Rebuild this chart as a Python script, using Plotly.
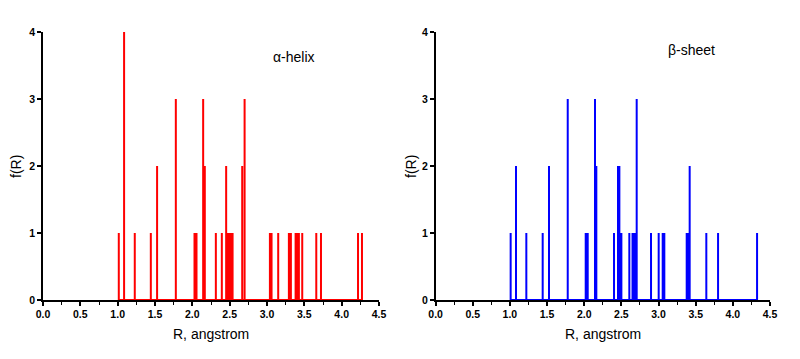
import plotly.graph_objects as go

# Data
alpha_R = [1.015, 1.086, 1.229, 1.444, 1.528, 1.779, 2.029, 2.056, 2.145, 2.167,
           2.315, 2.395, 2.453, 2.476, 2.494, 2.516, 2.539, 2.668, 2.700, 3.039,
           3.061, 3.150, 3.293, 3.320, 3.383, 3.405, 3.427, 3.472, 3.660, 3.723,
           4.219, 4.272]
alpha_f = [1, 4, 1, 1, 2, 3, 1, 1, 3, 2,
           1, 1, 2, 1, 1, 1, 1, 2, 3, 1,
           1, 1, 1, 1, 1, 1, 1, 1, 1, 1,
           1, 1]

beta_R = [1.010, 1.082, 1.221, 1.441, 1.526, 1.778, 2.020, 2.047, 2.145, 2.163,
          2.401, 2.455, 2.473, 2.500, 2.607, 2.650, 2.670, 2.690, 2.706, 2.899,
          3.002, 3.056, 3.078, 3.379, 3.401, 3.419, 3.643, 3.801, 4.326]
beta_f = [1, 2, 1, 1, 2, 3, 1, 1, 3, 2,
          1, 2, 2, 1, 1, 1, 1, 1, 3, 1,
          1, 1, 1, 1, 1, 2, 1, 1, 1]

x_ticks = [0.0, 0.5, 1.0, 1.5, 2.0, 2.5, 3.0, 3.5, 4.0, 4.5]
y_ticks = [0, 1, 2, 3, 4]

FONT = "Arial, Liberation Sans, sans-serif"


def impulses(rs, fs):
    xs, ys = [], []
    for r, f in zip(rs, fs):
        xs += [r, r, r]
        ys += [0, f, 0]
    return xs, ys


fig = go.Figure()
ax, ay = impulses(alpha_R, alpha_f)
bx, by = impulses(beta_R, beta_f)
fig.add_trace(go.Scatter(x=ax, y=ay, mode="lines", line=dict(color="#FF0000", width=2),
                         xaxis="x", yaxis="y", showlegend=False, hoverinfo="skip",
                         cliponaxis=False))
fig.add_trace(go.Scatter(x=bx, y=by, mode="lines", line=dict(color="#0000FF", width=2),
                         xaxis="x2", yaxis="y2", showlegend=False, hoverinfo="skip",
                         cliponaxis=False))

H = 359.0
W = 800.0
# page body margin offset (figure is placed 8px from the page corner)
OX = 8
OY = 8


def px(x):
    return (x - OX) / W


def py(y):
    return 1 - (y - OY) / H


ydom = [py(300), py(32)]

xcommon = dict(range=[0, 4.5], tickvals=x_ticks, ticktext=[f"{v:.1f}" for v in x_ticks],
               showline=True, linecolor="black", linewidth=1.5, ticks="outside",
               ticklen=4, tickwidth=1.5, tickcolor="black", showgrid=False, zeroline=False,
               tickfont=dict(family=FONT, size=10.5, color="black", weight="bold"),
               minor=dict(dtick=0.25, tick0=0, ticks="outside", ticklen=3, tickwidth=1.2,
                          tickcolor="black", showgrid=False),
               automargin=False, layer="below traces", fixedrange=True)
ycommon = dict(range=[0, 4], tickvals=y_ticks, showline=True, linecolor="black", linewidth=1.5,
               ticks="outside", ticklen=4, tickwidth=1.5, tickcolor="black", showgrid=False,
               zeroline=False, domain=ydom,
               tickfont=dict(family=FONT, size=10.5, color="black", weight="bold"),
               automargin=False, layer="below traces", fixedrange=True)

title_font = dict(family=FONT, size=14, color="black")


def ann(text, x, y, angle=0):
    return dict(text=text, x=px(x), y=py(y), xref="paper", yref="paper",
                showarrow=False, textangle=angle, font=title_font,
                xanchor="center", yanchor="middle")


fig.update_layout(
    width=800, height=359,
    margin=dict(l=0, r=0, t=0, b=0),
    paper_bgcolor="white", plot_bgcolor="white",
    font=dict(family=FONT),
    xaxis=dict(domain=[px(43), px(379)], anchor="y", **xcommon),
    yaxis=dict(anchor="x", **ycommon),
    xaxis2=dict(domain=[px(435.6), px(770)], anchor="y2", **xcommon),
    yaxis2=dict(anchor="x2", **ycommon),
    annotations=[
        ann("α-helix", 294, 57),
        ann("β-sheet", 691, 50),
        ann("R, angstrom", 211, 334),
        ann("R, angstrom", 603, 334),
        ann("f(R)", 16, 167, -90),
        ann("f(R)", 411, 167, -90),
    ],
)

fig.write_html("out.html")
